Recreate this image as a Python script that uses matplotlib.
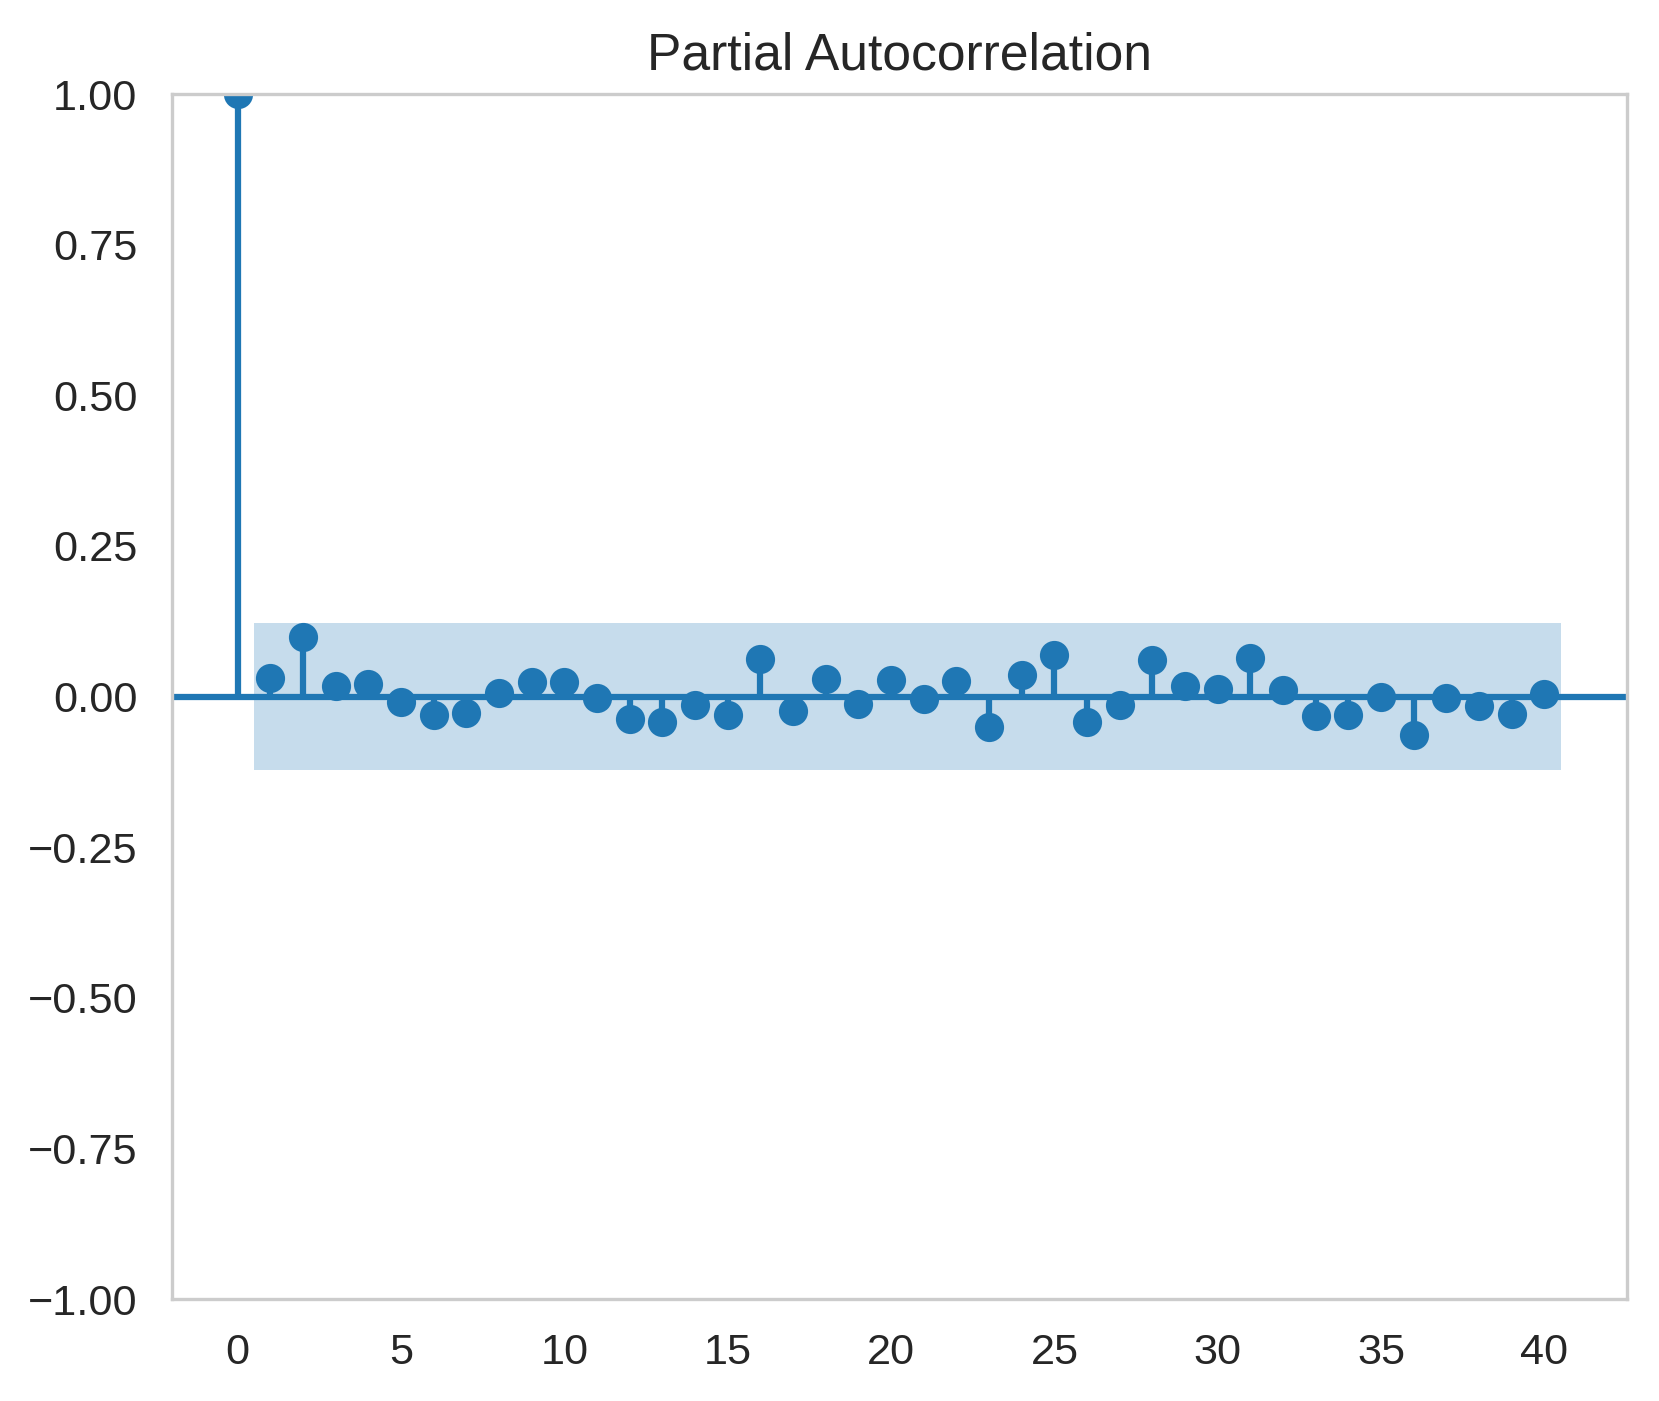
import numpy as np
import matplotlib
matplotlib.use('Agg')
import matplotlib.pyplot as plt
import seaborn as sns

# partial autocorrelation values
lags = np.arange(0, 41)
pacf_vals = [1.0, 0.0315, 0.099, 0.017, 0.0205, -0.009, -0.030, -0.028, 0.006, 0.024,
             0.024, -0.003, -0.038, -0.0425, -0.0145, -0.031, 0.0625, -0.024, 0.029, -0.013,
             0.028, -0.004, 0.025, -0.051, 0.0355, 0.0695, -0.043, -0.014, 0.060, 0.018,
             0.012, 0.0635, 0.010, -0.033, -0.030, 0.0, -0.0635, -0.002, -0.016, -0.029,
             0.0045]
conf_half = 0.122  # half-width of the confidence band (lags 1..40)
ytick_vals = [-1, -0.75, -0.5, -0.25, 0, 0.25, 0.5, 0.75, 1.0]
xtick_vals = [0, 5, 10, 15, 20, 25, 30, 35, 40]

BLUE = '#1f77b4'


def main():
    sns.set_theme(style='whitegrid', context='notebook')
    plt.rcParams['font.family'] = ['Liberation Sans', 'DejaVu Sans']
    plt.rcParams['axes.linewidth'] = 0.8

    fig = plt.figure(figsize=(1659 / 300, 1401 / 300), dpi=300)
    ax = fig.add_axes([0.1034, 0.0728, 0.8773, 0.8601])

    vals = np.array(pacf_vals)
    ax.vlines(lags, [0], vals, color=BLUE, linewidth=1.5)
    ax.axhline(0, color=BLUE, linewidth=1.5)
    ax.plot(lags, vals, 'o', color=BLUE, markersize=6)

    # confidence band spans lag 0.5 .. 40.5
    band_x = np.append(lags[1:] - 0.5, lags[-1] + 0.5)
    ax.fill_between(band_x, -conf_half, conf_half, alpha=0.25,
                    linewidth=0, color=BLUE)

    ax.set_xlim(-2.025, 42.525)
    ax.set_ylim(-1, 1)
    ax.set_yticks(ytick_vals)
    ax.set_yticklabels([f'{v:.2f}'.replace('-', '\u2212') for v in ytick_vals])
    ax.set_xticks(xtick_vals)
    ax.tick_params(labelsize=10.4, pad=2.2)
    ax.grid(False)
    ax.set_title('Partial Autocorrelation', fontsize=12.4)

    fig.savefig('out.png', dpi=300)
    plt.close(fig)


if __name__ == '__main__':
    main()
